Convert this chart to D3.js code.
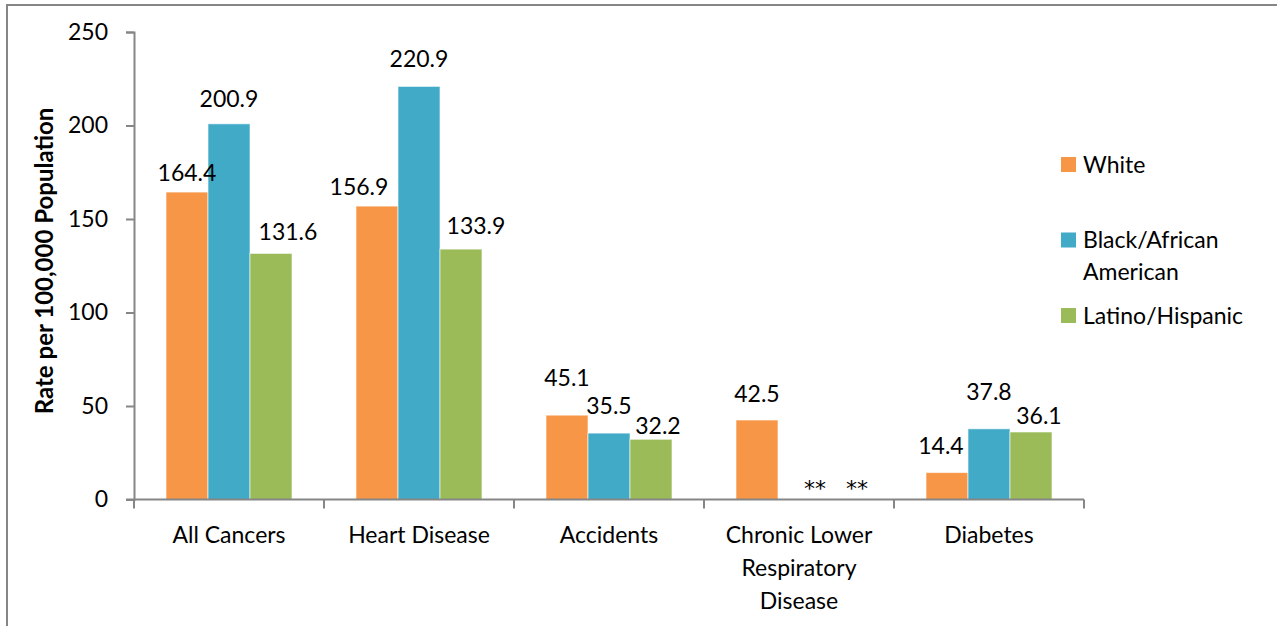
<!DOCTYPE html>
<html>
<head>
<meta charset="utf-8">
<script src="https://cdn.jsdelivr.net/npm/d3@7"></script>
<style>
  body { margin: 0; background: #fff; }
  svg { display: block; font-family: Lato, "Open Sans", sans-serif; }
</style>
</head>
<body>
<svg id="chart" width="1277" height="626"></svg>
<script>
// chart values
const categories = ['All Cancers', 'Heart Disease', 'Accidents', 'Chronic Lower Respiratory Disease', 'Diabetes'];
const categoryLines = [['All Cancers'], ['Heart Disease'], ['Accidents'], ['Chronic Lower', 'Respiratory', 'Disease'], ['Diabetes']];
const seriesNames = ['White', 'Black/African American', 'Latino/Hispanic'];
const legendLines = [['White'], ['Black/African', 'American'], ['Latino/Hispanic']];
const white = [164.4, 156.9, 45.1, 42.5, 14.4];
const black = [200.9, 220.9, 35.5, null, 37.8];
const latino = [131.6, 133.9, 32.2, null, 36.1];
const yTicks = [0, 50, 100, 150, 200, 250];
const colors = ['#F79646', '#41ABC7', '#9BBB59'];

// label placement tweaks (Excel moved some labels to avoid overlap)
const labelGap = [[11, 11, 29, 18, 19], [17, 19, 19, 4, 29], [13, 15, 5, 4, 8]];
const labelDx = [[0, -18, 0, 0, -6], [0, 0, 0, 16, 0], [17, 15, 7, 16, 8]];

const seriesValues = [white, black, latino];
const fontSize = 23;
const axisColor = '#868686';

const svg = d3.select('#chart');

// outer chart frame (right/bottom edges run off the picture)
svg.append('rect')
  .attr('x', 7).attr('y', 5)
  .attr('width', 1400).attr('height', 800)
  .attr('fill', 'none')
  .attr('stroke', axisColor)
  .attr('stroke-width', 2);

const plot = { left: 134, right: 1084, top: 32, bottom: 499.5 };

const x = d3.scaleBand().domain(categories).range([plot.left, plot.right]).paddingInner(0).paddingOuter(0);
const xs = d3.scaleBand().domain(seriesNames).range([0, x.bandwidth()]).paddingInner(0).paddingOuter(0.762);
const y = d3.scaleLinear().domain([0, 250]).range([plot.bottom, plot.top]);

// y axis
const yAxisG = svg.append('g')
  .attr('transform', `translate(${plot.left},0)`)
  .call(d3.axisLeft(y).tickValues(yTicks).tickSize(8).tickPadding(18).tickFormat(d3.format('d')));
yAxisG.select('.domain').attr('stroke', axisColor).attr('stroke-width', 2);
yAxisG.selectAll('.tick line').attr('stroke', axisColor).attr('stroke-width', 2);
yAxisG.selectAll('.tick text')
  .attr('fill', '#000')
  .style('font-size', fontSize + 'px')
  .style('font-family', 'Lato, sans-serif');

svg.append('text')
  .attr('transform', `translate(53, 261) rotate(-90)`)
  .attr('text-anchor', 'middle')
  .style('font-size', '24px')
  .style('font-weight', 'bold')
  .text('Rate per 100,000 Population');

// bars
const barData = [];
seriesValues.forEach((vals, si) => {
  vals.forEach((v, ci) => {
    barData.push({ si, ci, cat: categories[ci], series: seriesNames[si], value: v });
  });
});

svg.append('g').selectAll('rect')
  .data(barData.filter(d => d.value !== null))
  .join('rect')
  .attr('x', d => x(d.cat) + xs(d.series))
  .attr('y', d => y(d.value))
  .attr('width', xs.bandwidth())
  .attr('height', d => y(0) - y(d.value))
  .attr('fill', d => colors[d.si])
  .attr('stroke', '#ffffff')
  .attr('stroke-opacity', 0.6)
  .attr('stroke-width', 1);

// data labels; missing values are shown as "**"
svg.append('g').selectAll('text')
  .data(barData)
  .join('text')
  .attr('x', d => x(d.cat) + xs(d.series) + xs.bandwidth() / 2 + labelDx[d.si][d.ci])
  .attr('y', d => y(d.value === null ? 0 : d.value) - labelGap[d.si][d.ci])
  .attr('text-anchor', 'middle')
  .style('font-size', d => d.value === null ? '22px' : fontSize + 'px')
  .style('font-family', d => d.value === null ? '"DejaVu Sans", sans-serif' : null)
  .text(d => d.value === null ? '**' : d.value.toFixed(1));

// x axis line
const xAxisG = svg.append('g');
xAxisG.append('line')
  .attr('x1', plot.left - 8).attr('x2', plot.right)
  .attr('y1', y(0)).attr('y2', y(0))
  .attr('stroke', axisColor).attr('stroke-width', 2);

// tick marks sit on the category boundaries
const boundaries = categories.map(c => x(c)).concat([x.range()[1]]);
xAxisG.selectAll('.xtick')
  .data(boundaries)
  .join('line')
  .attr('class', 'xtick')
  .attr('x1', d => d).attr('x2', d => d)
  .attr('y1', y(0)).attr('y2', y(0) + 9)
  .attr('stroke', axisColor).attr('stroke-width', 2);

const catLabels = xAxisG.selectAll('.xlabel')
  .data(categories)
  .join('text')
  .attr('class', 'xlabel')
  .attr('text-anchor', 'middle')
  .attr('x', d => x(d) + x.bandwidth() / 2)
  .attr('y', y(0) + 43)
  .style('font-size', fontSize + 'px');
catLabels.each(function(d, i) {
  const t = d3.select(this);
  categoryLines[i].forEach((line, li) => {
    t.append('tspan')
      .attr('x', x(d) + x.bandwidth() / 2)
      .attr('dy', li === 0 ? 0 : 33)
      .text(line);
  });
});

// legend
const legend = svg.append('g').attr('transform', 'translate(1061,157)');
const items = legend.selectAll('g')
  .data(seriesNames)
  .join('g')
  .attr('transform', (d, i) => `translate(0,${i * 75.5})`);
items.append('rect')
  .attr('width', 15).attr('height', 15)
  .attr('fill', (d, i) => colors[i]);
items.append('text')
  .attr('x', 22)
  .attr('y', 15.5)
  .style('font-size', fontSize + 'px')
  .each(function(d, i) {
    const t = d3.select(this);
    legendLines[i].forEach((line, li) => {
      t.append('tspan').attr('x', 22).attr('dy', li === 0 ? 0 : 32).text(line);
    });
  });
</script>
</body>
</html>
